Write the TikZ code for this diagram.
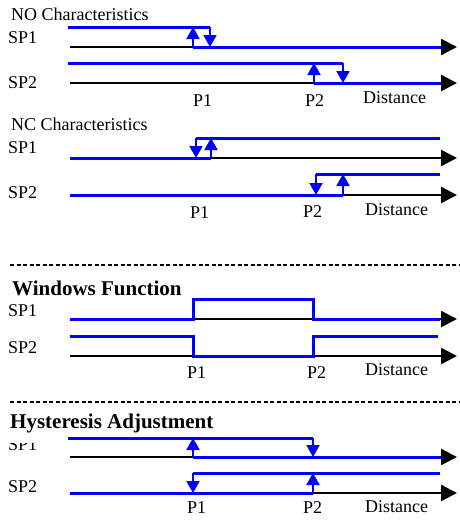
\documentclass[tikz,border=0pt]{standalone}
\usepackage{fontspec}
\setmainfont{Liberation Serif}
\usetikzlibrary{arrows.meta}
\definecolor{lineblue}{RGB}{0,0,255}
\tikzset{
 sig/.style={draw=lineblue, line width=3pt},
 stem/.style={draw=lineblue, line width=2pt, -{Triangle[width=13pt,length=12pt]}},
 axis/.style={draw=black, line width=2.4pt, -{Triangle[width=16pt,length=16pt]}},
 lbl/.style={anchor=base west, inner sep=0pt, font=\fontsize{18}{18}\selectfont},
 ttl/.style={anchor=base west, inner sep=0pt, font=\bfseries\fontsize{21}{21}\selectfont},
 sepline/.style={draw=black, line width=1.2pt, dash pattern=on 4pt off 2.5pt},
}
\begin{document}
\begin{tikzpicture}[x=1pt,y=-1pt]
\useasboundingbox (0,0) rectangle (459,520);
% ---------- NO Characteristics
\node[lbl] (t1) at (11,20.5) {NO Characteristics};
\node[lbl] (a1) at (8,43) {SP1};
\node[lbl] (b1) at (8,88) {SP2};
\draw[axis] (70,47) -- (457,47);
\draw[sig] (193,47) -- (441,47);
\draw[sig] (68,27) -- (210,27);
\draw[stem] (210,27) -- (210,47);
\draw[stem] (193,47) -- (193,27);
\draw[axis] (70,83) -- (457,83);
\draw[sig] (314,83) -- (441,83);
\draw[sig] (68,63) -- (343,63);
\draw[stem] (343,63) -- (343,83);
\draw[stem] (314,83) -- (314,63);
\node[lbl] (p11) at (193,106) {P1};
\node[lbl] (p21) at (305,106) {P2};
\node[lbl] (d1) at (363,103) {Distance};
% ---------- NC Characteristics
\node[lbl] (t2) at (11,130.5) {NC Characteristics};
\node[lbl] (a2) at (8,153) {SP1};
\node[lbl] (b2) at (8,198) {SP2};
\draw[axis] (70,158) -- (457,158);
\draw[sig] (70,158) -- (211,158);
\draw[sig] (196,138) -- (440,138);
\draw[stem] (196,138) -- (196,158);
\draw[stem] (211,158) -- (211,138);
\draw[axis] (70,195) -- (457,195);
\draw[sig] (70,195) -- (343,195);
\draw[sig] (316,174) -- (440,174);
\draw[stem] (316,174) -- (316,195);
\draw[stem] (343,195) -- (343,174);
\node[lbl] (p12) at (190,218) {P1};
\node[lbl] (p22) at (303,217) {P2};
\node[lbl] (d2) at (365,215) {Distance};
% ---------- separator
\draw[sepline] (10,265) -- (459,265);
% ---------- Windows Function
\node[ttl] (t3) at (12,295.5) {Windows Function};
\node[lbl] (a3) at (8,316) {SP1};
\node[lbl] (b3) at (8,353) {SP2};
\draw[axis] (70,319) -- (457,319);
\draw[sig] (70,319) -- (193,319) -- (193,299) -- (313,299) -- (313,319) -- (440,319);
\draw[axis] (70,356) -- (457,356);
\draw[sig] (70,336) -- (193,336) -- (193,356) -- (313,356) -- (313,336) -- (438,336);
\node[lbl] (p13) at (187,378) {P1};
\node[lbl] (p23) at (307,378) {P2};
\node[lbl] (d3) at (365,375) {Distance};
% ---------- separator
\draw[sepline] (10,402) -- (459,402);
% ---------- Hysteresis Adjustment
\node[ttl] (t4) at (10,428) {Hysteresis Adjustment};
\begin{scope}
\clip (0,443) rectangle (60,460);
\node[lbl] (a4) at (8,450) {SP1};
\end{scope}
\node[lbl] (b4) at (8,492) {SP2};
\draw[axis] (70,457) -- (457,457);
\draw[sig] (68,438) -- (313,438);
\draw[stem] (313,438) -- (313,457);
\draw[sig] (193,457) -- (441,457);
\draw[stem] (193,457) -- (193,438);
\draw[axis] (70,493) -- (457,493);
\draw[sig] (193,473) -- (440,473);
\draw[stem] (193,473) -- (193,493);
\draw[sig] (70,493) -- (313,493);
\draw[stem] (313,493) -- (313,473);
\node[lbl] (p14) at (187,513) {P1};
\node[lbl] (p24) at (303,513) {P2};
\node[lbl] (d4) at (365,512) {Distance};
\end{tikzpicture}
\end{document}
